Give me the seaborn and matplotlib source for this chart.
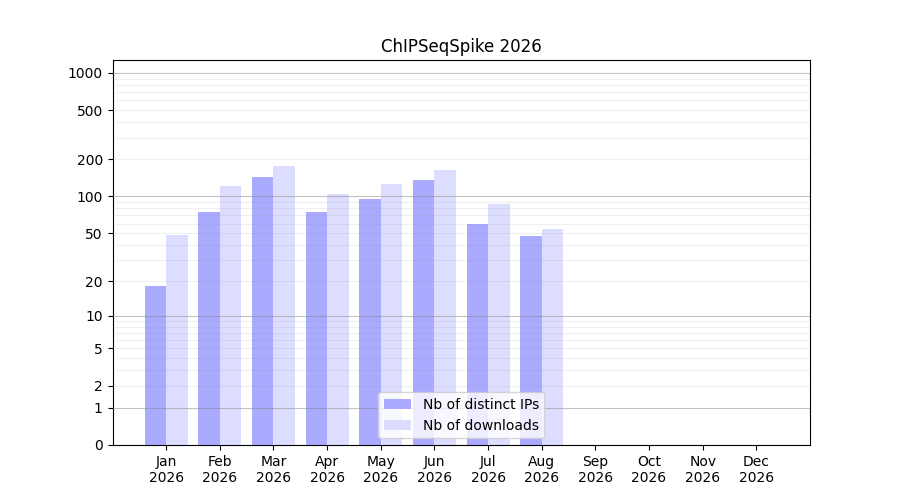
import numpy as np
import pandas as pd
import matplotlib
matplotlib.use("Agg")
import matplotlib.pyplot as plt
import seaborn as sns

# monthly stats
months = ["Jan", "Feb", "Mar", "Apr", "May", "Jun", "Jul", "Aug", "Sep", "Oct", "Nov", "Dec"]
year = 2026
distinct_ips = [18, 75, 144, 75, 95, 136, 60, 47]
downloads = [48, 122, 177, 105, 126, 164, 87, 54]

labels = [m + "\n" + str(year) for m in months]
n = len(distinct_ips)

df = pd.concat([
    pd.DataFrame({"month": labels[:n], "count": distinct_ips, "kind": "Nb of distinct IPs"}),
    pd.DataFrame({"month": labels[:n], "count": downloads, "kind": "Nb of downloads"}),
], ignore_index=True)

palette = {"Nb of distinct IPs": "#aaaaff", "Nb of downloads": "#ddddff"}

fig, ax = plt.subplots(figsize=(9, 5), dpi=100)
sns.barplot(data=df, x="month", y="count", hue="kind", order=labels,
            palette=palette, saturation=1, linewidth=0, errorbar=None, ax=ax)

ax.set_yscale("function", functions=(lambda v: np.log10(1 + np.clip(v, 0, None)),
                                     lambda v: 10 ** v - 1))
ax.set_ylim(0, 1270)
ax.set_xlim(-1, 12)

yticks = [0, 1, 2, 5, 10, 20, 50, 100, 200, 500, 1000]
ax.set_yticks(yticks)
ax.set_yticklabels([str(t) for t in yticks])
ax.yaxis.set_minor_locator(matplotlib.ticker.NullLocator())

# grid: light lines at 2..9 of each decade, darker at the decades
for dec in [1, 10, 100]:
    for k in range(2, 10):
        ax.axhline(k * dec, color="#999999", alpha=0.15, linewidth=0.8, zorder=3)
for dec in [1, 10, 100, 1000]:
    ax.axhline(dec, color="#888888", alpha=0.5, linewidth=0.8, zorder=3)

ax.set_xlabel("")
ax.set_ylabel("")
ax.set_title("ChIPSeqSpike " + str(year))
ax.legend(loc="lower center")

fig.savefig("out.png")
